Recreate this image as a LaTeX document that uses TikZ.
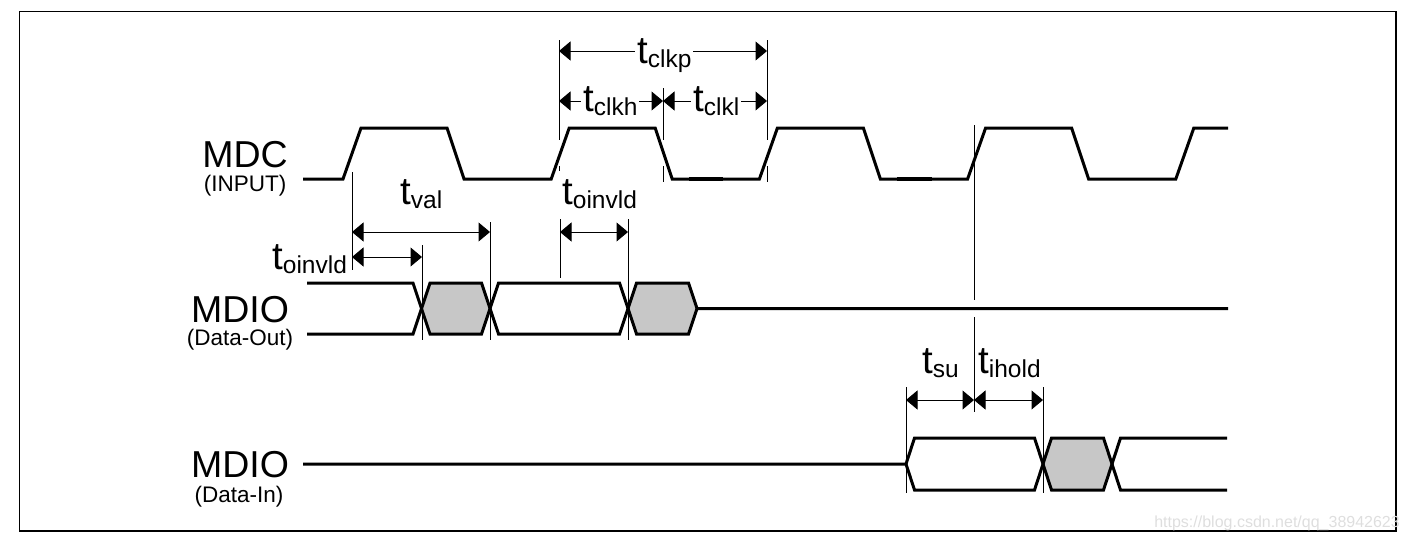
\documentclass[tikz,border=0pt]{standalone}
\usepackage{fontspec}
\setmainfont{Liberation Sans}
\usetikzlibrary{arrows.meta}

% timing parameter: large "t" with a lowered subscript
\newcommand\tparam[1]{{\fontsize{38.5}{38.5}\selectfont t}\raisebox{-4pt}{\fontsize{24.5}{24.5}\selectfont #1}}

\tikzset{
  wave/.style={line width=3pt},
  busfill/.style={fill=black!22, draw=none},
  ext/.style={line width=1pt},
  dimarrow/.style={line width=1pt,
    {Triangle[length=11.5pt,width=19pt]}-{Triangle[length=11.5pt,width=19pt]}},
  tlabel/.style={inner sep=0pt, anchor=base west},
  tlabelcut/.style={fill=white, inner xsep=2pt, inner ysep=0pt, anchor=base west},
  signame/.style={anchor=base, inner sep=0pt, font=\fontsize{37.5}{37.5}\selectfont},
  sigsub/.style={anchor=base, inner sep=0pt, font=\fontsize{22.5}{22.5}\selectfont},
}

\begin{document}
\begin{tikzpicture}[x=1pt,y=-1pt]
\useasboundingbox (0,0) rectangle (1411,542);

% outer frame
\draw[line width=1.2pt] (19.5,11.5) rectangle (1396,531);

% ---------- signal names ----------
\node[signame] (mdc)     at (245,167) {MDC};
\node[sigsub]  (mdcsub)  at (245,191) {(INPUT)};
\node[signame] (mdo)     at (240,322) {MDIO};
\node[sigsub]  (mdosub)  at (240,345) {(Data-Out)};
\node[signame] (mdi)     at (240,477) {MDIO};
\node[sigsub]  (mdisub)  at (239,502.5) {(Data-In)};

% ---------- MDC clock ----------
\draw[wave] (303,179) -- (343,179) -- (361,128) -- (447,128) -- (464,179)
  -- (551.2,179) -- (569.2,128) -- (655.2,128) -- (672.2,179)
  -- (759.4,179) -- (777.4,128) -- (863.4,128) -- (880.4,179)
  -- (967.6,179) -- (985.6,128) -- (1071.6,128) -- (1088.6,179)
  -- (1175.8,179) -- (1193.8,128) -- (1228,128);
\draw[line width=4pt] (689,179) -- (723,179);
\draw[line width=4pt] (897,179) -- (932,179);

% ---------- MDIO data out ----------
\path[busfill] (421.5,308.5) -- (430,283) -- (481.5,283) -- (490,308.5) -- (481.5,334) -- (430,334) -- cycle;
\path[busfill] (628,308.5) -- (636.5,283) -- (688.5,283) -- (697,308.5) -- (688.5,334) -- (636.5,334) -- cycle;
\draw[wave] (307,283) -- (413,283) -- (430,334) -- (481.5,334) -- (498.5,283)
  -- (619.5,283) -- (636.5,334) -- (688.5,334) -- (697,308.5) -- (1228,308.5);
\draw[wave] (307,334) -- (413,334) -- (430,283) -- (481.5,283) -- (498.5,334)
  -- (619.5,334) -- (636.5,283) -- (688.5,283) -- (697,308.5);

% ---------- MDIO data in ----------
\path[busfill] (1043,464) -- (1051.5,438) -- (1103.5,438) -- (1112,464) -- (1103.5,490) -- (1051.5,490) -- cycle;
\draw[wave] (303,464) -- (906,464) -- (914.5,438) -- (1034.5,438) -- (1051.5,490)
  -- (1103.5,490) -- (1120.5,438) -- (1227,438);
\draw[wave] (906,464) -- (914.5,490) -- (1034.5,490) -- (1051.5,438)
  -- (1103.5,438) -- (1120.5,490) -- (1227,490);

% ---------- extension lines ----------
\draw[ext] (559,40) -- (559,140);
\draw[ext] (559,166) -- (559,171);
\draw[ext] (663,88) -- (663,140);
\draw[ext] (663,166) -- (663,182);
\draw[ext] (767,40) -- (767,140);
\draw[ext] (767,166) -- (767,182);
\draw[ext] (352,172) -- (352,270);
\draw[ext] (422,245) -- (422,340);
\draw[ext] (490,222) -- (490,340);
\draw[ext] (560,219) -- (560,278);
\draw[ext] (628,219) -- (628,340);
\draw[ext] (974,125) -- (974,300);
\draw[ext] (974,317) -- (974,412);
\draw[ext] (906,387) -- (906,493);
\draw[ext] (1043,387) -- (1043,493);

% ---------- clock period / high / low ----------
\coordinate (kpA) at (559,51);  \coordinate (kpB) at (767,51);
\coordinate (khA) at (559,101); \coordinate (khB) at (663,101);
\coordinate (klA) at (663,101); \coordinate (klB) at (767,101);
\draw[dimarrow] (kpA) -- (kpB);
\draw[dimarrow] (khA) -- (khB);
\draw[dimarrow] (klA) -- (klB);
\node[tlabelcut] (lclkp) at (635,63)  {\tparam{clkp}};
\node[tlabelcut] (lclkh) at (581,111) {\tparam{clkh}};
\node[tlabelcut] (lclkl) at (691,111) {\tparam{clkl}};

% ---------- output delays ----------
\coordinate (vaA) at (352,232); \coordinate (vaB) at (490,232);
\coordinate (oiA) at (352,257); \coordinate (oiB) at (422,257);
\coordinate (ojA) at (560,232); \coordinate (ojB) at (628,232);
\draw[dimarrow] (vaA) -- (vaB);
\draw[dimarrow] (oiA) -- (oiB);
\draw[dimarrow] (ojA) -- (ojB);
\node[tlabel] (lval)   at (400,204) {\tparam{val}};
\node[tlabel] (loinv1) at (272,269) {\tparam{oinvld}};
\node[tlabel] (loinv2) at (562,204) {\tparam{oinvld}};

% ---------- input setup / hold ----------
\coordinate (suA) at (906,400);  \coordinate (suB) at (974,400);
\coordinate (hoA) at (974,400);  \coordinate (hoB) at (1043,400);
\draw[dimarrow] (suA) -- (suB);
\draw[dimarrow] (hoA) -- (hoB);
\node[tlabel] (lsu)   at (922,373) {\tparam{su}};
\node[tlabel] (lhold) at (978,373) {\tparam{ihold}};

% source note
\node[anchor=base east, inner sep=0pt, text=black!13, font=\fontsize{16}{16}\selectfont] (src)
  at (1400,527) {https://blog.csdn.net/qq\_38942623};
\end{tikzpicture}
\end{document}
